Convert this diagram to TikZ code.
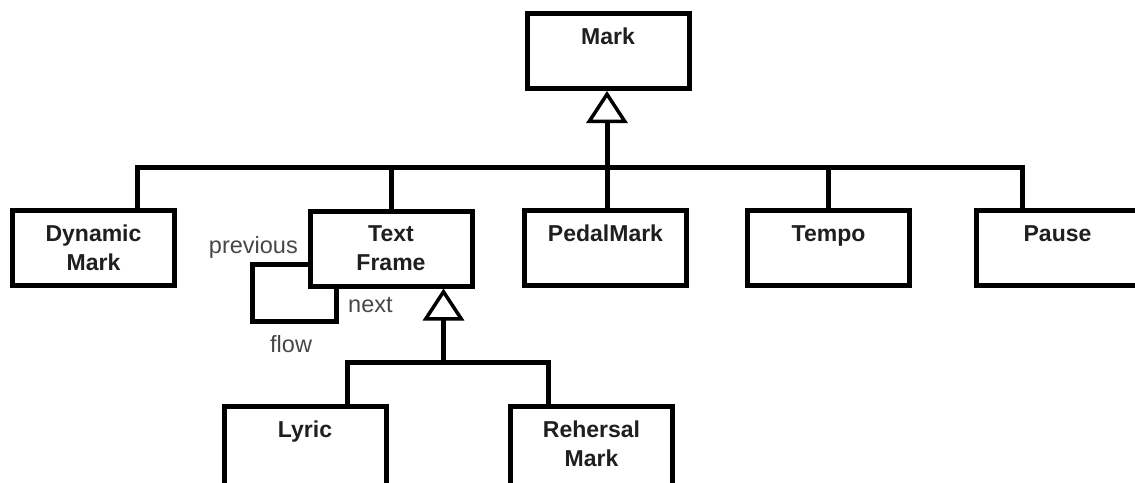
\documentclass[tikz,border=0pt]{standalone}
\usepackage{fontspec}
\setmainfont{Liberation Sans}
\usetikzlibrary{arrows.meta,calc}

\tikzset{
  classbox/.style={draw=black, line width=5pt, fill=white, rectangle,
    minimum width=162pt, minimum height=75pt, inner sep=0pt},
  classname/.style={anchor=north, align=center, inner sep=0pt,
    text=black!88, font=\bfseries\fontsize{23}{29}\selectfont},
  conn/.style={draw=black, line width=5pt},
  gen/.style={conn, -{Triangle[length=32pt, width=41pt, line width=3.5pt, fill=white]}},
  rolelbl/.style={inner sep=0pt, text=black!72, font=\fontsize{23.5}{28}\selectfont},
}

\begin{document}
\begin{tikzpicture}[x=1pt, y=-1pt]
  \useasboundingbox (0,0) rectangle (1135,482);
  \clip (0,0) rectangle (1135,482);

  % class boxes
  \node[classbox] (mark)  at (608,51)     {};
  \node[classbox] (dyn)   at (93.5,248)   {};
  \node[classbox] (tf)    at (391,248.5)  {};
  \node[classbox] (pedal) at (605.5,248)  {};
  \node[classbox] (tempo) at (828.5,248)  {};
  \node[classbox] (pause) at (1057.5,248) {};
  \node[classbox, minimum height=100pt] (lyric) at (305,456.5)   {};
  \node[classbox, minimum height=100pt] (reh)   at (591.5,456.5) {};

  % class names
  \node[classname] (markT)  at ($(mark.north)+(0,17)$)  {Mark};
  \node[classname] (dynT)   at ($(dyn.north)+(0,17)$)   {Dynamic\\Mark};
  \node[classname] (tfT)    at ($(tf.north)+(0,17)$)    {Text\\Frame};
  \node[classname] (pedalT) at ($(pedal.north)+(0,17)$) {PedalMark};
  \node[classname] (tempoT) at ($(tempo.north)+(0,17)$) {Tempo};
  \node[classname] (pauseT) at ($(pause.north)+(0,17)$) {Pause};
  \node[classname] (lyricT) at ($(lyric.north)+(0,17)$) {Lyric};
  \node[classname] (rehT)   at ($(reh.north)+(0,17)$)   {Rehersal\\Mark};

  % inheritance from Mark
  \coordinate (busM) at (607,167);
  \draw[gen] (pedal.north -| busM) -- (mark.south -| busM);
  \draw[conn] ($(dyn.north)+(43.5,0)$) |- (busM);
  \draw[conn] (busM) -| ($(pause.north)+(-35.5,0)$);
  \draw[conn] (busM -| tf.north) -- (tf.north);
  \draw[conn] (busM -| tempo.north) -- (tempo.north);

  % inheritance from Text Frame
  \coordinate (busT) at (443.5,362);
  \draw[gen] (busT) -- (tf.south -| busT);
  \draw[conn] ($(lyric.north)+(42,0)$) |- (busT);
  \draw[conn] (busT) -| ($(reh.north)+(-43.5,0)$);

  % self association of Text Frame
  \coordinate (loop) at (252,321);
  \draw[conn] ($(tf.west)+(0,15.5)$) -| (loop) -| ($(tf.south)+(-55,0)$);
  \node[rolelbl, anchor=base east] (prevL) at (298,253) {previous};
  \node[rolelbl, anchor=base west] (nextL) at (348,312) {next};
  \node[rolelbl, anchor=base west] (flowL) at (270,352) {flow};
\end{tikzpicture}
\end{document}
